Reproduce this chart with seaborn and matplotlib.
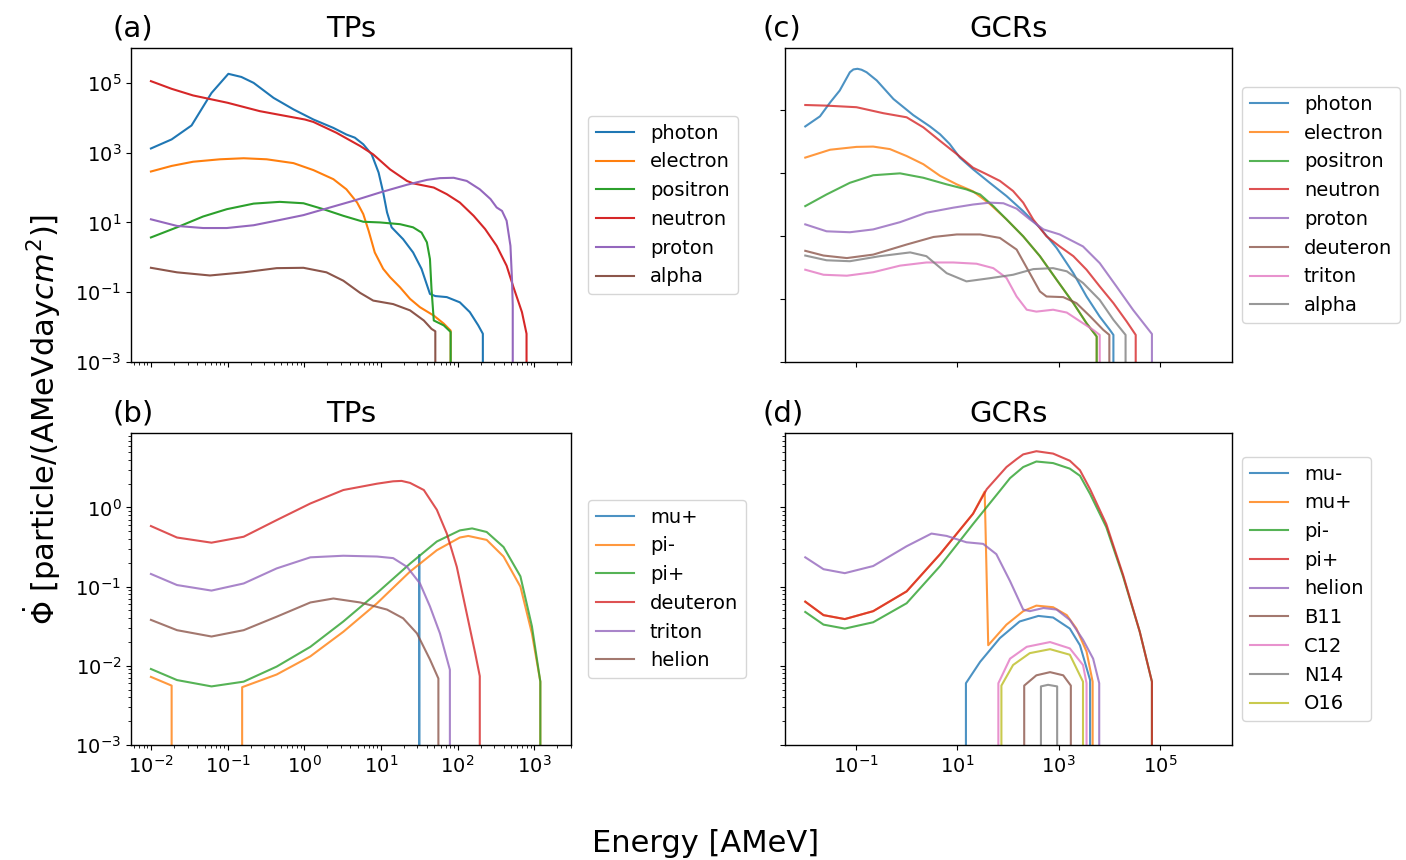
import numpy as np
import pandas as pd
import matplotlib
matplotlib.use("Agg")
import matplotlib.pyplot as plt
from matplotlib.ticker import NullLocator
import seaborn as sns

OFF = -np.inf  # log10 of a zero flux (spectrum is cut off)

# ---------------- (a) TPs : log10(energy [AMeV]) and log10(flux) ----------------
tp_photon_logE = [-2.0, -1.73, -1.47, -1.21, -0.99, -0.82, -0.66, -0.40, -0.14, 0.12, 0.38, 0.55, 0.66, 0.77, 0.88,
                  0.97, 1.03, 1.08, 1.14, 1.29, 1.42, 1.53, 1.64, 1.71, 1.86, 2.03, 2.16, 2.27, 2.33, 2.40]
tp_photon_logF = [3.12, 3.38, 3.78, 4.71, 5.26, 5.17, 5.0, 4.57, 4.24, 3.95, 3.71, 3.52, 3.43, 3.24, 2.95,
                  2.43, 1.86, 1.29, 0.86, 0.52, 0.14, -0.33, -1.05, -1.11, -1.14, -1.29, -1.57, -1.95, -2.19, OFF]
tp_electron_logE = [-2.0, -1.73, -1.45, -1.10, -0.79, -0.49, -0.14, 0.12, 0.38, 0.55, 0.69, 0.77, 0.84, 0.92, 1.03,
                    1.12, 1.25, 1.38, 1.51, 1.69, 1.82, 1.91, 1.98]
tp_electron_logF = [2.46, 2.62, 2.74, 2.81, 2.84, 2.81, 2.70, 2.50, 2.24, 1.95, 1.57, 1.24, 0.76, 0.14, -0.33,
                    -0.57, -0.86, -1.19, -1.43, -1.67, -1.90, -2.10, OFF]
tp_positron_logE = [-2.0, -1.66, -1.32, -1.01, -0.66, -0.32, -0.01, 0.25, 0.51, 0.77, 0.99, 1.25, 1.42, 1.53, 1.60,
                    1.64, 1.66, 1.69, 1.82, 1.91, 1.98]
tp_positron_logF = [0.57, 0.86, 1.17, 1.38, 1.54, 1.59, 1.55, 1.38, 1.19, 1.02, 1.0, 0.95, 0.86, 0.71, 0.43,
                    -0.05, -0.90, -1.81, -1.95, -2.14, OFF]
tp_neutron_logE = [-2.0, -1.73, -1.45, -1.0, -0.58, -0.36, 0.01, 0.12, 0.42, 0.73, 0.90, 1.12, 1.34, 1.42, 1.69,
                   1.86, 2.03, 2.21, 2.36, 2.51, 2.64, 2.73, 2.84, 2.90, 2.97]
tp_neutron_logF = [5.05, 4.83, 4.64, 4.43, 4.19, 4.10, 3.95, 3.88, 3.57, 3.19, 2.95, 2.52, 2.19, 2.12, 2.0,
                   1.81, 1.57, 1.19, 0.81, 0.33, -0.24, -0.86, -1.57, -2.19, OFF]
tp_proton_logE = [-2.0, -1.66, -1.32, -1.01, -0.66, -0.32, -0.01, 0.29, 0.64, 0.99, 1.34, 1.60, 1.77, 1.95, 2.12,
                  2.29, 2.43, 2.51, 2.58, 2.64, 2.69, 2.71, 2.72, 2.80]
tp_proton_logF = [1.09, 0.90, 0.84, 0.84, 0.92, 1.07, 1.21, 1.40, 1.62, 1.86, 2.08, 2.22, 2.27, 2.28, 2.19,
                  1.95, 1.67, 1.43, 1.33, 1.05, 0.33, -0.62, -1.38, OFF]
tp_alpha_logE = [-2.0, -1.66, -1.23, -0.79, -0.36, -0.01, 0.29, 0.51, 0.73, 0.90, 1.16, 1.38, 1.56, 1.66, 1.71, 1.80]
tp_alpha_logF = [-0.30, -0.43, -0.52, -0.43, -0.31, -0.30, -0.43, -0.67, -1.02, -1.24, -1.34, -1.52, -1.81, -2.05,
                 -2.12, OFF]

# ---------------- (b) TPs ----------------
tp_muplus_logE = [1.30, 1.50, 1.70]
tp_muplus_logF = [OFF, -0.60, OFF]
tp_piminus_logE = [-2.0, -1.73, -1.50, -1.00, -0.81, -0.36, 0.08, 0.51, 0.95, 1.38, 1.73, 2.03, 2.14, 2.38, 2.60,
                   2.82, 2.97, 3.08, 3.15]
tp_piminus_logF = [-2.14, -2.25, OFF, OFF, -2.27, -2.11, -1.88, -1.57, -1.21, -0.81, -0.54, -0.38, -0.36, -0.41,
                   -0.62, -1.0, -1.59, -2.20, OFF]
tp_piplus_logE = [-2.0, -1.66, -1.21, -0.79, -0.36, 0.08, 0.51, 0.95, 1.38, 1.73, 2.03, 2.19, 2.38, 2.60, 2.82,
                  2.97, 3.08, 3.15]
tp_piplus_logF = [-2.04, -2.18, -2.26, -2.20, -2.01, -1.76, -1.44, -1.08, -0.71, -0.43, -0.29, -0.265, -0.31, -0.50,
                  -0.87, -1.50, -2.20, OFF]
tp_deuteron_logE = [-2.0, -1.66, -1.21, -0.79, -0.36, 0.08, 0.51, 0.95, 1.16, 1.27, 1.38, 1.56, 1.73, 1.86, 1.99,
                    2.12, 2.23, 2.29, 2.36]
tp_deuteron_logF = [-0.235, -0.38, -0.445, -0.37, -0.16, 0.05, 0.22, 0.30, 0.33, 0.335, 0.31, 0.22, -0.03, -0.33,
                    -0.75, -1.34, -1.84, -2.13, OFF]
tp_triton_logE = [-2.0, -1.66, -1.21, -0.79, -0.36, 0.08, 0.51, 0.95, 1.16, 1.34, 1.51, 1.64, 1.77, 1.90, 1.97]
tp_triton_logF = [-0.84, -0.98, -1.05, -0.96, -0.77, -0.63, -0.61, -0.62, -0.64, -0.75, -0.96, -1.25, -1.59,
                  -2.05, OFF]
tp_helion_logE = [-2.0, -1.66, -1.21, -0.79, -0.36, 0.08, 0.38, 0.73, 1.08, 1.29, 1.47, 1.64, 1.75, 1.82]
tp_helion_logF = [-1.42, -1.55, -1.63, -1.55, -1.38, -1.20, -1.15, -1.20, -1.29, -1.40, -1.59, -1.92, -2.16, OFF]

# ---------------- (c) GCRs ----------------
gcr_photon_logE = [-2.0, -1.71, -1.51, -1.32, -1.12, -1.05, -0.97, -0.89, -0.79, -0.59, -0.26, 0.13, 0.46, 0.66,
                   0.85, 1.05, 1.31, 1.64, 1.97, 2.30, 2.63, 2.96, 3.29, 3.55, 3.81, 4.01, 4.08, 4.20]
gcr_photon_logF = [4.48, 4.80, 5.24, 5.62, 6.20, 6.29, 6.31, 6.28, 6.20, 5.94, 5.35, 4.84, 4.48, 4.23,
                   3.92, 3.49, 3.12, 2.69, 2.27, 1.79, 1.26, 0.62, -0.18, -0.92, -1.56, -1.98, -2.14, OFF]
gcr_electron_logE = [-2.0, -1.51, -0.99, -0.66, -0.33, 0.0, 0.33, 0.66, 0.99, 1.31, 1.64, 1.97, 2.30, 2.63, 2.96,
                     3.29, 3.55, 3.75, 3.85]
gcr_electron_logF = [3.49, 3.74, 3.83, 3.84, 3.76, 3.54, 3.28, 2.91, 2.64, 2.42, 2.02, 1.53, 0.99, 0.36, -0.39,
                     -1.13, -1.77, -2.19, OFF]
gcr_positron_logE = [-2.0, -1.58, -1.12, -0.66, -0.13, 0.33, 0.79, 1.18, 1.45, 1.71, 1.97, 2.30, 2.63, 2.96, 3.29,
                     3.55, 3.75, 3.85]
gcr_positron_logF = [1.95, 2.32, 2.69, 2.93, 2.99, 2.85, 2.64, 2.48, 2.32, 1.95, 1.53, 0.99, 0.36, -0.39, -1.13,
                     -1.77, -2.19, OFF]
gcr_neutron_logE = [-2.0, -1.58, -0.99, -0.46, 0.0, 0.33, 0.66, 0.99, 1.31, 1.58, 1.84, 2.10, 2.30, 2.50, 2.76,
                    3.02, 3.29, 3.55, 3.81, 4.08, 4.34, 4.52, 4.60]
gcr_neutron_logF = [5.16, 5.14, 5.09, 4.90, 4.77, 4.45, 4.02, 3.60, 3.17, 2.96, 2.75, 2.43, 2.06, 1.52, 0.99,
                    0.67, 0.36, -0.07, -0.60, -1.13, -1.71, -2.14, OFF]
gcr_proton_logE = [-2.0, -1.58, -1.12, -0.66, -0.13, 0.39, 0.92, 1.31, 1.64, 1.91, 2.17, 2.43, 2.70, 3.02, 3.48,
                   3.81, 4.14, 4.47, 4.84, 4.95]
gcr_proton_logF = [1.37, 1.15, 1.12, 1.21, 1.44, 1.74, 1.90, 2.0, 2.06, 2.04, 1.87, 1.53, 1.21, 1.05, 0.67,
                   0.14, -0.60, -1.35, -2.11, OFF]
gcr_deuteron_logE = [-2.0, -1.64, -1.18, -0.66, 0.0, 0.53, 0.99, 1.45, 1.84, 2.17, 2.43, 2.63, 2.76, 3.09, 3.35,
                     3.62, 3.88, 4.00, 4.10]
gcr_deuteron_logF = [0.53, 0.38, 0.30, 0.41, 0.73, 0.97, 1.05, 1.05, 0.94, 0.57, -0.18, -0.76, -0.92, -0.94, -1.13,
                     -1.55, -1.98, -2.14, OFF]
gcr_triton_logE = [-2.0, -1.64, -1.18, -0.66, -0.13, 0.39, 0.92, 1.38, 1.71, 1.97, 2.17, 2.37, 2.56, 2.89, 3.16,
                   3.48, 3.68, 3.81, 3.90]
gcr_triton_logF = [-0.07, -0.23, -0.26, -0.15, 0.06, 0.16, 0.16, 0.12, -0.02, -0.33, -0.92, -1.34, -1.40, -1.34,
                   -1.43, -1.77, -1.98, -2.14, OFF]
gcr_alpha_logE = [-2.0, -1.58, -1.12, -0.53, 0.07, 0.39, 0.79, 1.18, 1.64, 2.10, 2.50, 2.89, 3.16, 3.48, 3.81,
                  4.08, 4.32, 4.40]
gcr_alpha_logF = [0.38, 0.23, 0.20, 0.36, 0.48, 0.36, -0.18, -0.44, -0.34, -0.23, -0.05, -0.02, -0.12, -0.49,
                  -1.03, -1.66, -2.14, OFF]

# ---------------- (d) GCRs ----------------
gcr_muminus_logE = [1.0, 1.17, 1.45, 1.84, 2.23, 2.60, 2.89, 3.22, 3.42, 3.62, 3.75]
gcr_muminus_logF = [OFF, -2.22, -1.95, -1.65, -1.44, -1.37, -1.39, -1.53, -1.74, -2.18, OFF]
gcr_muplus_logE = [-2.0, -1.64, -1.22, -0.66, 0.0, 0.66, 1.31, 1.54, 1.61, 1.97, 2.30, 2.56, 2.89, 3.16, 3.35,
                   3.55, 3.67, 3.80]
gcr_muplus_logF = [-1.19, -1.36, -1.41, -1.31, -1.06, -0.59, -0.08, 0.20, -1.74, -1.48, -1.31, -1.24, -1.26, -1.36,
                   -1.53, -1.82, -2.20, OFF]
gcr_piminus_logE = [-2.0, -1.64, -1.22, -0.66, 0.0, 0.66, 1.31, 1.84, 2.04, 2.30, 2.56, 2.89, 3.22, 3.42, 3.62,
                    3.94, 4.27, 4.60, 4.84, 4.95]
gcr_piminus_logF = [-1.32, -1.48, -1.53, -1.45, -1.21, -0.74, -0.21, 0.21, 0.37, 0.51, 0.58, 0.56, 0.49, 0.40, 0.17,
                    -0.25, -0.87, -1.57, -2.20, OFF]
gcr_piplus_logE = [-2.0, -1.64, -1.22, -0.66, 0.0, 0.66, 1.31, 1.58, 1.97, 2.17, 2.30, 2.56, 2.89, 3.22, 3.42, 3.62,
                   3.94, 4.27, 4.60, 4.84, 4.95]
gcr_piplus_logF = [-1.19, -1.36, -1.41, -1.31, -1.06, -0.59, -0.08, 0.23, 0.51, 0.61, 0.67, 0.71, 0.68, 0.59, 0.47,
                   0.23, -0.21, -0.85, -1.57, -2.20, OFF]
gcr_helion_logE = [-2.0, -1.64, -1.22, -0.66, 0.0, 0.49, 0.79, 1.18, 1.51, 1.77, 2.04, 2.30, 2.43, 2.70, 2.96,
                   3.22, 3.48, 3.68, 3.80, 3.90]
gcr_helion_logF = [-0.63, -0.78, -0.83, -0.74, -0.49, -0.33, -0.36, -0.44, -0.46, -0.59, -0.93, -1.29, -1.31,
                   -1.27, -1.29, -1.42, -1.67, -1.91, -2.22, OFF]
gcr_b11_logE = [2.20, 2.32, 2.56, 2.83, 3.09, 3.24, 3.35]
gcr_b11_logF = [OFF, -2.25, -2.12, -2.08, -2.12, -2.25, OFF]
gcr_c12_logE = [1.70, 1.81, 2.04, 2.37, 2.83, 3.22, 3.48, 3.55, 3.65]
gcr_c12_logF = [OFF, -2.22, -1.91, -1.76, -1.70, -1.78, -1.99, -2.22, OFF]
gcr_n14_logE = [2.55, 2.65, 2.79, 2.97, 3.05]
gcr_n14_logF = [OFF, -2.26, -2.24, -2.26, OFF]
gcr_o16_logE = [1.75, 1.87, 2.10, 2.43, 2.83, 3.22, 3.48, 3.60]
gcr_o16_logF = [OFF, -2.25, -1.99, -1.84, -1.79, -1.86, -2.20, OFF]

panel_a = [("photon", tp_photon_logE, tp_photon_logF), ("electron", tp_electron_logE, tp_electron_logF),
           ("positron", tp_positron_logE, tp_positron_logF), ("neutron", tp_neutron_logE, tp_neutron_logF),
           ("proton", tp_proton_logE, tp_proton_logF), ("alpha", tp_alpha_logE, tp_alpha_logF)]
panel_b = [("mu+", tp_muplus_logE, tp_muplus_logF), ("pi-", tp_piminus_logE, tp_piminus_logF),
           ("pi+", tp_piplus_logE, tp_piplus_logF), ("deuteron", tp_deuteron_logE, tp_deuteron_logF),
           ("triton", tp_triton_logE, tp_triton_logF), ("helion", tp_helion_logE, tp_helion_logF)]
panel_c = [("photon", gcr_photon_logE, gcr_photon_logF), ("electron", gcr_electron_logE, gcr_electron_logF),
           ("positron", gcr_positron_logE, gcr_positron_logF), ("neutron", gcr_neutron_logE, gcr_neutron_logF),
           ("proton", gcr_proton_logE, gcr_proton_logF), ("deuteron", gcr_deuteron_logE, gcr_deuteron_logF),
           ("triton", gcr_triton_logE, gcr_triton_logF), ("alpha", gcr_alpha_logE, gcr_alpha_logF)]
panel_d = [("mu-", gcr_muminus_logE, gcr_muminus_logF), ("mu+", gcr_muplus_logE, gcr_muplus_logF),
           ("pi-", gcr_piminus_logE, gcr_piminus_logF), ("pi+", gcr_piplus_logE, gcr_piplus_logF),
           ("helion", gcr_helion_logE, gcr_helion_logF), ("B11", gcr_b11_logE, gcr_b11_logF),
           ("C12", gcr_c12_logE, gcr_c12_logF), ("N14", gcr_n14_logE, gcr_n14_logF),
           ("O16", gcr_o16_logE, gcr_o16_logF)]


def make_frame(curves):
    parts = []
    for name, loge, logf in curves:
        parts.append(pd.DataFrame({"energy": np.power(10.0, np.array(loge, dtype=float)),
                                   "flux": np.power(10.0, np.array(logf, dtype=float)),
                                   "particle": name}))
    return pd.concat(parts, ignore_index=True)


plt.rcParams.update({
    "font.family": ["DejaVu Sans"],
    "xtick.labelsize": 14,
    "ytick.labelsize": 14,
    "axes.linewidth": 1.0,
})
palette = sns.color_palette("tab10")

fig = plt.figure(figsize=(14.06, 8.6), dpi=100)
W, H = 1406.0, 860.0


def rect(l, t, r, b):
    return [l / W, 1 - b / H, (r - l) / W, (b - t) / H]


ax_a = fig.add_axes(rect(131, 48, 571, 362))
ax_b = fig.add_axes(rect(131, 433, 571, 745))
ax_c = fig.add_axes(rect(785, 48, 1232, 362))
ax_d = fig.add_axes(rect(785, 433, 1232, 745))

specs = [
    (ax_a, panel_a, "(a)", "TPs", 1.0, (10 ** -2.26, 10 ** 3.48), (1e-3, 1e6), 1.016, -0.041),
    (ax_b, panel_b, "(b)", "TPs", 0.8, (10 ** -2.26, 10 ** 3.48), (1e-3, 10 ** 0.94), 1.016, -0.041),
    (ax_c, panel_c, "(c)", "GCRs", 0.8, (10 ** -2.4, 10 ** 6.42), (1e-3, 10 ** 6.97), 1.0, -0.051),
    (ax_d, panel_d, "(d)", "GCRs", 0.8, (10 ** -2.4, 10 ** 6.42), (1e-3, 10 ** 0.94), 1.0, -0.051),
]

for ax, curves, tag, title, alpha, xlim, ylim, legx, tagx in specs:
    ax.set_xscale("log")
    ax.set_yscale("log")
    df = make_frame(curves)
    names = [c[0] for c in curves]
    sns.lineplot(data=df, x="energy", y="flux", hue="particle", hue_order=names,
                 palette=palette[:len(names)], estimator=None, sort=False,
                 linewidth=1.5, alpha=alpha, ax=ax, legend=True)
    ax.set_xlim(*xlim)
    ax.set_ylim(*ylim)
    ax.set_xlabel("")
    ax.set_ylabel("")
    leg = ax.get_legend()
    handles = leg.legend_handles
    labels = [t.get_text() for t in leg.get_texts()]
    leg.remove()
    ax.legend(handles, labels, loc="center left", bbox_to_anchor=(legx, 0.5), fontsize=14)
    ax.set_title(title, fontsize=21, pad=8)
    ax.set_title(tag, fontsize=21, pad=8, loc="left", x=tagx)

# tick configuration
ax_a.set_yticks([1e-3, 1e-1, 1e1, 1e3, 1e5])
ax_a.yaxis.set_minor_locator(NullLocator())
ax_c.set_yticks([1e-3, 1e-1, 1e1, 1e3, 1e5])
ax_c.yaxis.set_minor_locator(NullLocator())
ax_a.set_ylim(1e-3, 1e6)
ax_c.set_ylim(1e-3, 10 ** 6.97)
for ax in (ax_c, ax_d):
    ax.set_xticks([1e-1, 1e1, 1e3, 1e5])
    ax.xaxis.set_minor_locator(NullLocator())
    ax.set_xlim(10 ** -2.4, 10 ** 6.42)
ax_a.tick_params(labelbottom=False)
ax_c.tick_params(labelbottom=False, labelleft=False)
ax_d.tick_params(labelleft=False)

fig.text(42 / W, 1 - 419 / H, r"$\dot{\Phi}$ [particle/(AMeVday$cm^2$)]", rotation=90,
         ha="center", va="center", fontsize=22)
fig.text(706 / W, 1 - 843 / H, "Energy [AMeV]", ha="center", va="center", fontsize=22)

fig.savefig("out.png", dpi=100)
